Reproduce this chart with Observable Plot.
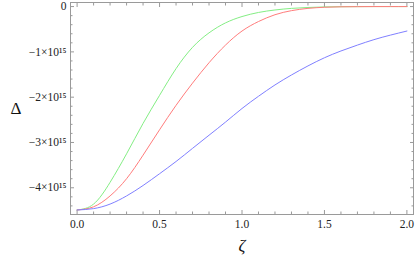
<!DOCTYPE html>
<html>
<head>
<meta charset="utf-8">
<script src="https://cdn.jsdelivr.net/npm/d3@7"></script>
<script src="https://cdn.jsdelivr.net/npm/@observablehq/plot@0.6"></script>
<style>
  html, body { margin: 0; padding: 0; background: #fff; }
  svg { display: block; }
  #chart svg text { font-family: "Liberation Serif", "Times New Roman", serif !important; }
</style>
</head>
<body>
<div id="chart"></div>
<script>
// ζ sample positions
const zeta = [0, 0.1, 0.2, 0.3, 0.4, 0.5, 0.6, 0.7, 0.8, 0.9, 1.0, 1.1, 1.2, 1.3, 1.4, 1.5, 1.6, 1.7, 1.8, 1.9, 2.0];
// Δ values in units of 1e15
const greenVals = [-4.49, -4.36, -3.88, -3.25, -2.58, -1.96, -1.37, -0.90, -0.58, -0.36, -0.22, -0.13, -0.075, -0.04, -0.02, -0.008, -0.003, -0.001, 0, 0, 0];
const redVals   = [-4.49, -4.42, -4.18, -3.80, -3.28, -2.72, -2.18, -1.69, -1.24, -0.85, -0.54, -0.33, -0.18, -0.09, -0.04, -0.015, -0.005, -0.002, 0, 0, 0];
const blueVals  = [-4.49, -4.46, -4.36, -4.18, -3.95, -3.69, -3.42, -3.13, -2.84, -2.55, -2.25, -1.98, -1.73, -1.51, -1.31, -1.13, -0.98, -0.85, -0.73, -0.63, -0.54];

const series = [
  {name: "green", vals: greenVals, color: "#84ee84"},
  {name: "red", vals: redVals, color: "#ff7c7c"},
  {name: "blue", vals: blueVals, color: "#8080ff"}
];

const xMajor = [0, 0.5, 1.0, 1.5, 2.0];
const xMinor = d3.range(0, 21).map(i => i / 10).filter(v => !xMajor.includes(v));
const yMajor = [0, -1e15, -2e15, -3e15, -4e15];
const yMinor = d3.range(-22, 1).map(i => i * 0.2e15).filter(v => !yMajor.some(m => Math.abs(m - v) < 1));
const yLabels = ["0", "−1×10¹⁵", "−2×10¹⁵", "−3×10¹⁵", "−4×10¹⁵"];

const data = series.flatMap(s => zeta.map((z, i) => ({z, d: s.vals[i] * 1e15, s: s.name, c: s.color})));

const serif = "Liberation Serif";
const frameColor = "#9a9a9a";

const tickOpts = {stroke: frameColor, tickFormat: () => "", label: null};

const chart = Plot.plot({
  width: 415,
  height: 259,
  marginLeft: 70,
  marginRight: 2,
  marginTop: 2,
  marginBottom: 45,
  style: {background: "#fff", color: "#222"},
  x: {domain: [-0.04, 2.04]},
  y: {domain: [-4.59e15, 0.09e15]},
  marks: [
    Plot.frame({stroke: frameColor}),
    Plot.axisX(xMajor, {...tickOpts, anchor: "bottom", tickSize: 4, dy: -4}),
    Plot.axisX(xMinor, {...tickOpts, anchor: "bottom", tickSize: 2.5, dy: -2.5}),
    Plot.axisX(xMajor, {...tickOpts, anchor: "top", tickSize: 4, dy: 4}),
    Plot.axisX(xMinor, {...tickOpts, anchor: "top", tickSize: 2.5, dy: 2.5}),
    Plot.axisY(yMajor, {...tickOpts, anchor: "left", tickSize: 4, dx: 4}),
    Plot.axisY(yMinor, {...tickOpts, anchor: "left", tickSize: 2.5, dx: 2.5}),
    Plot.axisY(yMajor, {...tickOpts, anchor: "right", tickSize: 4, dx: -4}),
    Plot.axisY(yMinor, {...tickOpts, anchor: "right", tickSize: 2.5, dx: -2.5}),
    Plot.axisX(xMajor, {anchor: "bottom", tickSize: 0, tickPadding: 5, tickFormat: d3.format(".1f"), fontSize: 11.5, fontFamily: serif, label: null, fill: "#222"}),
    Plot.axisY(yMajor, {anchor: "left", tickSize: 0, tickPadding: 4, tickFormat: (d, i) => yLabels[i], fontSize: 11.5, fontFamily: serif, label: null, fill: "#222"}),
    Plot.line(data, {x: "z", y: "d", z: "s", stroke: "c", strokeWidth: 1, curve: "natural"}),
    Plot.text(["Δ"], {frameAnchor: "left", dx: -60, fontSize: 17, fontFamily: serif, fill: "#111", text: d => d}),
    Plot.text(["ζ"], {frameAnchor: "bottom", dy: 36, fontSize: 17, fontFamily: serif, fontStyle: "italic", fill: "#111", text: d => d})
  ]
});

document.getElementById("chart").appendChild(chart);
</script>
</body>
</html>
